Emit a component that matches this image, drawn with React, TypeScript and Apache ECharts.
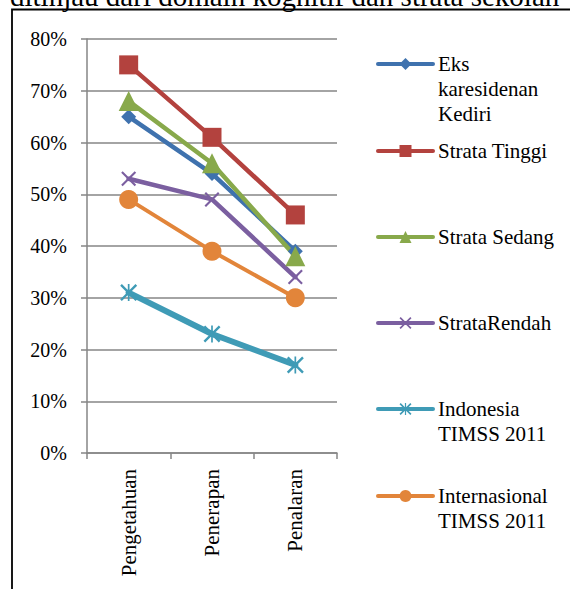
import React, { useEffect, useRef } from "react";
import * as echarts from "echarts";

const categories = ["Pengetahuan", "Penerapan", "Penalaran"];
const seriesNames = [
  "Eks karesidenan Kediri",
  "Strata Tinggi",
  "Strata Sedang",
  "StrataRendah",
  "Indonesia TIMSS 2011",
  "Internasional TIMSS 2011",
];
const legendLabels = [
  "Eks\nkaresidenan\nKediri",
  "Strata Tinggi",
  "Strata Sedang",
  "StrataRendah",
  "Indonesia\nTIMSS 2011",
  "Internasional\nTIMSS 2011",
];
const eksKediri = [65, 54, 39];
const strataTinggi = [75, 61, 46];
const strataSedang = [68, 56, 38];
const strataRendah = [53, 49, 34];
const indonesiaTimss = [31, 23, 17];
const internasionalTimss = [49, 39, 30];
const yTicks = { min: 0, max: 80, interval: 10 };
const titleText = "ditinjau dari domain kognitif dan strata sekolah";

const colors = ["#3f72ae", "#b3423e", "#88a94b", "#7b5fa0", "#3f9bb6", "#e2853a"];
const X_PATH = "path://M0,2L2,0L20,18L18,20Z M18,0L20,2L2,20L0,18Z";
const STAR_PATH = "path://M0,2L2,0L20,18L18,20Z M18,0L20,2L2,20L0,18Z M9,0L11,0L11,20L9,20Z";

const FONT = "Liberation Serif";

export default function App() {
  const ref = useRef<HTMLDivElement>(null);
  useEffect(() => {
    if (!ref.current) return;
    const chart = echarts.init(ref.current, undefined, { renderer: "svg" });
    const data = [eksKediri, strataTinggi, strataSedang, strataRendah, indonesiaTimss, internasionalTimss];
    const symbols = ["diamond", "rect", "triangle", X_PATH, STAR_PATH, "circle"];
    const symbolSizes = [15, 19, 20, 15, 17, 19];
    const lineWidths = [4.5, 4.5, 4.5, 4.5, 6, 4];
    const legendCenters = [64, 151, 237, 323, 409, 496];
    const lh = 25;

    const legends = seriesNames.map((name, i) => {
      const lines = legendLabels[i].split("\n");
      const n = lines.length;
      const H = (2 * n - 1) * lh;
      // leading blank lines keep the first line level with the legend icon
      const label = "\n".repeat(n - 1) + legendLabels[i];
      return {
        data: [name],
        orient: "vertical",
        left: 376,
        top: legendCenters[i] - H / 2,
        padding: 0,
        itemWidth: 55,
        itemHeight: 15,
        selectedMode: false,
        formatter: () => label,
        lineStyle: { width: 4, cap: "round" },
        textStyle: {
          fontFamily: FONT,
          fontSize: 21,
          color: "#000",
          lineHeight: lh,
        },
      };
    });

    chart.setOption({
      animation: false,
      backgroundColor: "#fff",
      color: colors,
      graphic: [
        {
          type: "text",
          x: 10,
          y: -4,
          style: {
            text: titleText,
            font: `29px ${FONT}`,
            fill: "#000",
            align: "left",
            verticalAlign: "middle",
          },
        },
        {
          type: "rect",
          shape: { x: 12, y: 9.5, width: 700, height: 700 },
          style: { fill: "none", stroke: "#000", lineWidth: 1.8 },
        },
      ],
      legend: legends,
      grid: { left: 87, right: 233, top: 39, bottom: 136 },
      xAxis: {
        type: "category",
        data: categories,
        boundaryGap: true,
        axisLine: { show: true, lineStyle: { color: "#868686", width: 1.5 } },
        axisTick: { show: true, length: 6, alignWithLabel: false, lineStyle: { color: "#868686", width: 1.5 } },
        axisLabel: {
          rotate: 90,
          interval: 0,
          margin: 16,
          fontFamily: FONT,
          fontSize: 21,
          color: "#000",
        },
        splitLine: { show: false },
      },
      yAxis: {
        type: "value",
        min: yTicks.min,
        max: yTicks.max,
        interval: yTicks.interval,
        axisLine: { show: true, lineStyle: { color: "#868686", width: 1.5 } },
        axisTick: { show: true, length: 6, lineStyle: { color: "#868686", width: 1.5 } },
        axisLabel: {
          formatter: "{value}%",
          margin: 20,
          fontFamily: FONT,
          fontSize: 20,
          color: "#000",
        },
        splitLine: { show: true, lineStyle: { color: "#868686", width: 1.5 } },
      },
      series: seriesNames.map((name, i) => ({
        name,
        type: "line",
        data: data[i],
        symbol: symbols[i],
        symbolSize: symbolSizes[i],
        lineStyle: { width: lineWidths[i], color: colors[i], cap: "round", join: "round" },
        itemStyle: { color: colors[i], borderWidth: 0 },
        emphasis: { disabled: true },
      })),
    });
    return () => chart.dispose();
  }, []);
  return (
    <div
      ref={ref}
      style={{ position: "absolute", left: 0, top: 0, width: 570, height: 589, background: "#fff" }}
    />
  );
}
